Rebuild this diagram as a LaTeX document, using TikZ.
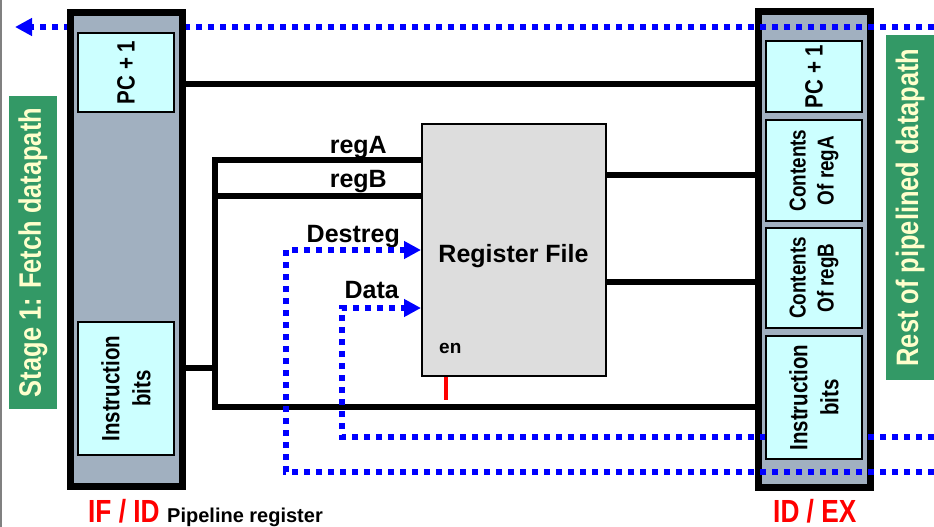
\documentclass[tikz,border=0pt]{standalone}
\usepackage{fontspec}
\setmainfont{Liberation Sans}
\newfontfamily\narrowfont{Liberation Sans}[FakeStretch=0.82]
\usetikzlibrary{arrows.meta}
\definecolor{regGray}{RGB}{161,176,192}
\definecolor{cellCyan}{RGB}{204,255,255}
\definecolor{rfGray}{RGB}{221,221,221}
\definecolor{stageGreen}{RGB}{51,153,102}
\definecolor{paleYellow}{RGB}{255,255,204}
\definecolor{edgeGray}{RGB}{128,128,128}
\tikzset{
  pipereg/.style={draw=black, fill=regGray, line width=7pt, inner sep=0pt, minimum width=112pt},
  cellbox/.style={draw=black, fill=cellCyan, line width=2.5pt, inner sep=0pt, minimum width=96pt,
    rotate=90, align=center, font=\narrowfont\bfseries\fontsize{25}{31}\selectfont},
  rfbox/.style={draw=black, fill=rfGray, line width=2pt, inner sep=0pt, minimum width=184pt, minimum height=252pt},
  stagebox/.style={fill=stageGreen, text=paleYellow, inner sep=0pt, rotate=90,
    font=\narrowfont\bfseries\fontsize{31}{36}\selectfont},
  wire/.style={draw=black, line width=6pt, line join=miter},
  ctrl/.style={draw=blue, line width=6pt, dash pattern=on 6pt off 6pt, line join=miter},
  ctrlarrow/.style={ctrl, -{Triangle[length=17pt,width=17pt]}},
  lbl/.style={font=\bfseries\fontsize{25}{30}\selectfont, inner sep=0pt},
  redlbl/.style={font=\narrowfont\bfseries\fontsize{32}{36}\selectfont, text=red, inner sep=0pt},
}
\begin{document}
\begin{tikzpicture}[x=1pt,y=-1pt]
\useasboundingbox (0,0) rectangle (934,527);
\draw[edgeGray, line width=1.5pt] (0.75,0) -- (0.75,527);

% green stage labels
\node[stagebox, minimum width=313pt, minimum height=48pt] (stageL) at (33,252.5) {Stage 1: Fetch datapath};
\node[stagebox, minimum width=345pt, minimum height=48pt] (stageR) at (910,207.5) {Rest of pipelined datapath};

% ID/EX frame (drawn below the control lines)
\node[pipereg, minimum height=475pt] (idex) at (814,249.5) {};

% register file
\node[rfbox] (rf) at (514,250) {};
\node[lbl, anchor=base] (rftext) at (513.5,262) {Register File};
\node[font=\bfseries\fontsize{19}{22}\selectfont, inner sep=0pt, anchor=base west] (en) at (439,353) {en};
\coordinate (enTop) at (446,377);
\coordinate (enBot) at (446,400);
\draw[red, line width=4pt] (enTop) -- (enBot);

% wire coordinates
\coordinate (pcL) at (184,84);
\coordinate (pcR) at (756,84);
\coordinate (insL) at (184,368);
\coordinate (insB) at (214.5,368);
\coordinate (busTop) at (214.5,160);
\coordinate (busBot) at (214.5,407);
\coordinate (regAend) at (421,160);
\coordinate (regBst) at (214.5,196);
\coordinate (regBend) at (421,196);
\coordinate (botEnd) at (756,407);
\coordinate (outAst) at (607,175);
\coordinate (outAend) at (756,175);
\coordinate (outBst) at (607,282);
\coordinate (outBend) at (756,282);

\draw[wire] (pcL) -- (pcR);
\draw[wire] (insL) -- (insB);
\draw[wire] (regAend) -- (busTop) -- (busBot) -- (botEnd);
\draw[wire] (regBst) -- (regBend);
\draw[wire] (outAst) -- (outAend);
\draw[wire] (outBst) -- (outBend);

% wire labels
\node[lbl, anchor=base east] (lA) at (387,153) {regA};
\node[lbl, anchor=base east] (lB) at (387,187) {regB};
\node[lbl, anchor=base east] (lD) at (400,242) {Destreg};
\node[lbl, anchor=base east] (lData) at (399,298) {Data};

% control (dotted blue) lines
\coordinate (topR) at (934,27);
\coordinate (topL) at (15,27);
\coordinate (dstR) at (934,472);
\coordinate (dstC) at (286,472);
\coordinate (dstU) at (286,250);
\coordinate (dstIn) at (421,250);
\coordinate (datR) at (934,437);
\coordinate (datC) at (342,437);
\coordinate (datU) at (342,308);
\coordinate (datIn) at (421,308);
\draw[ctrlarrow] (topR) -- (topL);
\draw[ctrlarrow] (dstR) -- (dstC) -- (dstU) -- (dstIn);
\draw[ctrlarrow] (datR) -- (datC) -- (datU) -- (datIn);

% IF/ID pipeline register (above the top control line)
\node[pipereg, minimum height=474pt] (ifid) at (126.5,249.5) {};
\node[cellbox, minimum height=96pt, minimum width=79pt] (ifpc) at (126,72.5) {PC + 1};
\node[cellbox, minimum height=96pt, minimum width=133pt] (ifins) at (126,388.5) {Instruction\\bits};

% ID/EX cells
\node[cellbox, minimum height=96pt, minimum width=71pt] (expc) at (814,76.5) {PC + 1};
\node[cellbox, minimum height=96pt, minimum width=101pt, font=\narrowfont\bfseries\fontsize{23}{28}\selectfont] (exa) at (814,170.5) {Contents\\Of regA};
\node[cellbox, minimum height=96pt, minimum width=100pt, font=\narrowfont\bfseries\fontsize{23}{28}\selectfont] (exb) at (814,278) {Contents\\Of regB};
\node[cellbox, minimum height=96pt, minimum width=123pt] (exins) at (814,397.5) {Instruction\\bits};

% bottom labels
\node[redlbl, anchor=base west] (ifidlbl) at (88,522) {IF / ID};
\node[font=\bfseries\fontsize{20}{24}\selectfont, inner sep=0pt, anchor=base west] (pipelbl) at (167,522) {Pipeline register};
\node[redlbl, anchor=base west] (idexlbl) at (773,522) {ID / EX};
\end{tikzpicture}
\end{document}
